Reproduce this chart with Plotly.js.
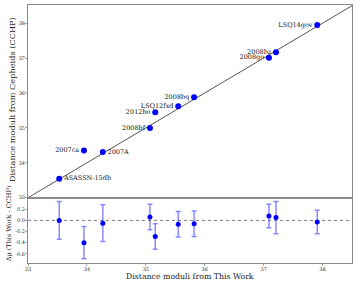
<!DOCTYPE html>
<html><head><meta charset="utf-8">
<script src="https://cdn.plot.ly/plotly-3.0.1.min.js"></script>
<style>html,body{margin:0;padding:0;background:#fff}#plot{width:357px;height:286px}</style>
</head><body><div id="plot"></div>
<script>
const names = ["ASASSN-15db","2007ca","2007A","2008bf","2012bo","LSQ12fxd","2008bq","2008go","2008bz","LSQ14gov"];
const muThisWork = [33.53,33.95,34.27,35.07,35.16,35.55,35.82,37.09,37.21,37.91];
const muCCHP     = [33.54,34.35,34.31,35.00,35.45,35.62,35.88,37.01,37.17,37.95];
const deltaMu    = [0.00,-0.40,-0.05,0.06,-0.29,-0.07,-0.06,0.08,0.05,-0.03];
const deltaErr   = [0.34,0.29,0.33,0.23,0.23,0.23,0.23,0.21,0.29,0.21];
const labelPos   = ["middle right","middle left","middle right","middle left","middle left","middle left","middle left","middle left","middle left","middle left"];
const oneToOne   = [33,38.5];
const zeroLine   = [0,0];
const xTicks = [33,34,35,36,37,38];
const yTicks = [33,34,35,36,37,38];
const dTicks = [-0.6,-0.4,-0.2,0.0,0.2];

const serif = "DejaVu Serif";
const frame = "#8a8a8a";
const traces = [
  {x: oneToOne, y: oneToOne, xaxis:'x2', yaxis:'y', mode:'lines', line:{color:'#555', width:1}, hoverinfo:'skip'},
  {x: muThisWork, y: muCCHP, xaxis:'x2', yaxis:'y', mode:'markers+text', text:names, textposition:labelPos,
   textfont:{family:serif, size:6.5, color:'#111'}, marker:{color:'#0000ff', size:6}, cliponaxis:false},
  {x: oneToOne, y: zeroLine, xaxis:'x', yaxis:'y2', mode:'lines', line:{color:'#222', width:0.6, dash:'dot'}, hoverinfo:'skip'},
  {x: muThisWork, y: deltaMu, xaxis:'x', yaxis:'y2', mode:'markers', marker:{color:'#0000ff', size:5},
   error_y:{type:'data', array:deltaErr, visible:true, color:'rgba(40,40,255,0.55)', thickness:1.5, width:2.5}}
];
const axBase = {showgrid:false, zeroline:false, showline:true, linecolor:frame, linewidth:1, mirror:true,
  ticks:'outside', ticklen:2, tickwidth:0.8, tickcolor:frame, ticklabelstandoff:-1, tickfont:{family:serif, size:5, color:'#333'}};
const layout = {
  width:357, height:286, showlegend:false,
  margin:{l:28, r:5, t:5, b:23},
  paper_bgcolor:'#fff', plot_bgcolor:'#fff',
  xaxis: Object.assign({}, axBase, {anchor:'y2', range:[33,38.5], tickvals:xTicks, ticktext:xTicks.map(String), domain:[0,1]}),
  xaxis2: Object.assign({}, axBase, {anchor:'y', matches:'x', range:[33,38.5], showticklabels:false, ticks:'', domain:[0,1]}),
  yaxis: Object.assign({}, axBase, {anchor:'x2', domain:[0.253,1], range:[33,38.52], tickvals:yTicks, ticktext:yTicks.map(String)}),
  yaxis2: Object.assign({}, axBase, {anchor:'x', domain:[0,0.253], range:[-0.765,0.407], tickvals:dTicks, ticktext:dTicks.map(v=>v.toFixed(1))}),
  annotations:[
    {text:'Distance moduli from This Work', xref:'paper', yref:'paper', x:0.5, y:-0.052, xanchor:'center', yanchor:'middle', showarrow:false, font:{family:serif, size:7.8, color:'#222'}},
    {text:'Distance moduli from Cepheids (CCHP)', xref:'paper', yref:'paper', x:-0.049, y:0.632, xanchor:'center', yanchor:'middle', textangle:-90, showarrow:false, font:{family:serif, size:8.2, color:'#222'}},
    {text:'Δμ (This Work - CCHP)', xref:'paper', yref:'paper', x:-0.058, y:0.155, xanchor:'center', yanchor:'middle', textangle:-90, showarrow:false, font:{family:serif, size:6.5, color:'#222'}}
  ]
};
Plotly.newPlot('plot', traces, layout, {displayModeBar:false, staticPlot:true});
</script></body></html>
